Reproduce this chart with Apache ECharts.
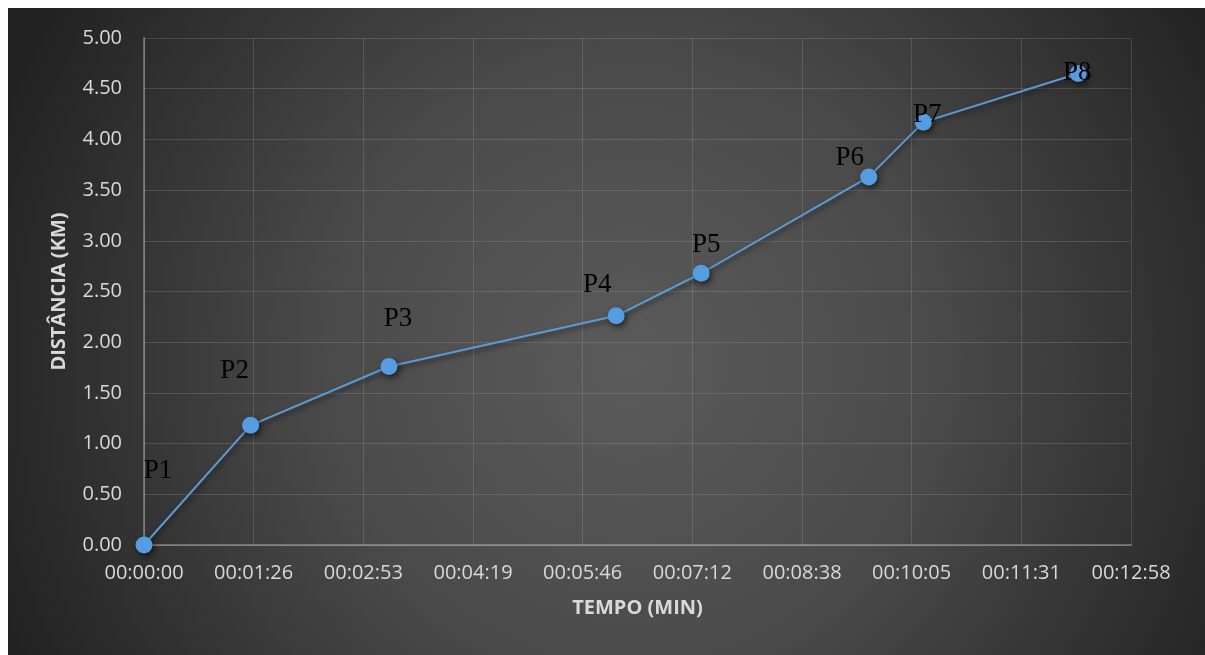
<!DOCTYPE html>
<html>
<head>
<meta charset="utf-8">
<script src="https://cdn.jsdelivr.net/npm/echarts@6/dist/echarts.min.js"></script>
<style>
  html, body { margin: 0; padding: 0; background: #ffffff; }
  #chart { position: absolute; left: 8px; top: 8px; width: 1197px; height: 647px; }
</style>
</head>
<body>
<div id="chart"></div>
<script>
// Pontos do percurso
const pontos = ['P1', 'P2', 'P3', 'P4', 'P5', 'P6', 'P7', 'P8'];
// Tempo decorrido em cada ponto (hh:mm:ss)
const tempos = ['00:00:00', '00:01:24', '00:03:13', '00:06:12', '00:07:19', '00:09:31', '00:10:14', '00:12:16'];
// Distância acumulada (km)
const distancias = [0.00, 1.18, 1.76, 2.26, 2.68, 3.63, 4.17, 4.65];

// Eixo do tempo: 0 a 0,009 dia (777,6 s) em passos de 0,001 dia (86,4 s)
const tempoMax = 777.6;
const tempoPasso = 86.4;

// Deslocamento de cada rótulo em relação ao seu marcador (px)
const deslocRotulos = [[14, -74], [-16, -54], [9, -48], [-19, -31], [5, -28], [-19, -19], [4, -7], [-1, -1]];

function paraSegundos(hms) {
  const p = hms.split(':').map(Number);
  return p[0] * 3600 + p[1] * 60 + p[2];
}
function paraHms(seg) {
  const s = Math.round(seg);
  const h = Math.floor(s / 3600), m = Math.floor((s % 3600) / 60), r = s % 60;
  const z = n => String(n).padStart(2, '0');
  return z(h) + ':' + z(m) + ':' + z(r);
}

const dados = pontos.map((nome, i) => ({
  name: nome,
  value: [paraSegundos(tempos[i]), distancias[i]],
  label: { offset: deslocRotulos[i] }
}));

const chart = echarts.init(document.getElementById('chart'), null, { renderer: 'canvas' });

const corTexto = '#d9d9d9';
const fonte = '"Open Sans", "Noto Sans", sans-serif';

chart.setOption({
  backgroundColor: {
    type: 'radial', x: 0.52, y: 0.55, r: 1.05,
    colorStops: [
      { offset: 0, color: '#5b5b5b' },
      { offset: 0.45, color: '#4a4a4a' },
      { offset: 1, color: '#222222' }
    ]
  },
  animation: false,
  grid: { left: 136, right: 74, top: 30, bottom: 110 },
  xAxis: {
    type: 'value',
    min: 0,
    max: tempoMax,
    interval: tempoPasso,
    name: 'TEMPO (MIN)',
    nameLocation: 'middle',
    nameGap: 53,
    nameTextStyle: { color: corTexto, fontFamily: fonte, fontWeight: 'bold', fontSize: 20 },
    axisLine: { show: true, lineStyle: { color: 'rgba(255,255,255,0.28)', width: 2 } },
    axisTick: { show: false },
    axisLabel: {
      color: corTexto, fontFamily: fonte, fontSize: 20, margin: 18,
      formatter: v => paraHms(v)
    },
    splitLine: { show: true, lineStyle: { color: 'rgba(255,255,255,0.13)', width: 1 } }
  },
  yAxis: {
    type: 'value',
    min: 0,
    max: 5,
    interval: 0.5,
    name: 'DISTÂNCIA (KM)',
    nameLocation: 'middle',
    nameGap: 75,
    nameTextStyle: { color: corTexto, fontFamily: fonte, fontWeight: 'bold', fontSize: 20 },
    axisLine: { show: true, lineStyle: { color: 'rgba(255,255,255,0.28)', width: 2 } },
    axisTick: { show: false },
    axisLabel: {
      color: corTexto, fontFamily: fonte, fontSize: 20, margin: 22,
      formatter: v => v.toFixed(2)
    },
    splitLine: { show: true, lineStyle: { color: 'rgba(255,255,255,0.13)', width: 1 } }
  },
  series: [{
    type: 'line',
    data: dados,
    symbol: 'circle',
    symbolSize: 17,
    z: 3,
    lineStyle: {
      color: '#5b9bd5', width: 2,
      shadowColor: 'rgba(0,0,0,0.55)', shadowBlur: 5, shadowOffsetX: 1, shadowOffsetY: 3
    },
    itemStyle: {
      color: '#559ce0', borderWidth: 0,
      shadowColor: 'rgba(0,0,0,0.6)', shadowBlur: 6, shadowOffsetX: 2, shadowOffsetY: 3
    },
    label: {
      show: true,
      position: 'inside',
      formatter: p => p.name,
      color: '#000000',
      fontFamily: '"Liberation Serif", "DejaVu Serif", serif',
      fontSize: 27
    },
    emphasis: { disabled: true }
  }]
});
</script>
</body>
</html>
